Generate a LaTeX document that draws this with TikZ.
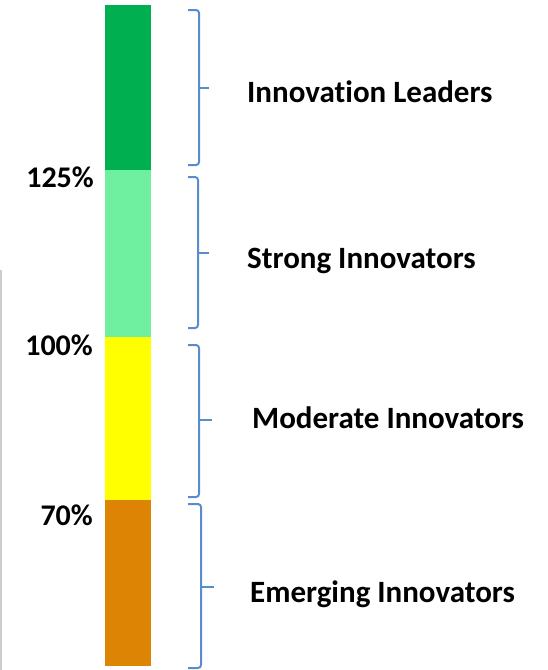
\documentclass[tikz,border=0pt]{standalone}
\usepackage{fontspec}
\setmainfont{Carlito}[Ligatures={NoCommon}]
\definecolor{cLead}{RGB}{0,176,80}
\definecolor{cStrong}{RGB}{110,240,160}
\definecolor{cMod}{RGB}{255,255,0}
\definecolor{cEmerg}{RGB}{221,132,5}
\definecolor{cBrace}{RGB}{88,140,205}
\definecolor{cFrame}{RGB}{205,205,205}
\begin{document}
\begin{tikzpicture}[x=1pt,y=-1pt,
  seg/.style={inner sep=0pt, outer sep=0pt, minimum width=45.5pt, draw=none},
  lbl/.style={inner sep=0pt, anchor=base west, font=\bfseries\fontsize{31}{37}\selectfont},
  pct/.style={inner sep=0pt, anchor=base east, font=\bfseries\fontsize{30}{36}\selectfont},
  brace/.style={draw=cBrace, line width=2pt, rounded corners=3pt}]
\useasboundingbox (0,0) rectangle (548,670);
\draw[cFrame, line width=2pt] (1,270) -- (1,670);
% bar segments
\node[seg, fill=cLead,   minimum height=165pt] (s1) at (127.75,87.5) {};
\node[seg, fill=cStrong, minimum height=167pt] (s2) at (127.75,253.5) {};
\node[seg, fill=cMod,    minimum height=163pt] (s3) at (127.75,418.5) {};
\node[seg, fill=cEmerg,  minimum height=166pt] (s4) at (127.75,583) {};
% percent labels
\node[pct] (p125) at (94,187) {125\%};
\node[pct] (p100) at (93,355) {100\%};
\node[pct] (p70)  at (93,525) {70\%};
% braces
\draw[brace] (188,10) -| (199,88) |- (188,165);
\draw[brace] (199,88) -- (209,88);
\draw[brace] (188,177) -| (198,253) |- (188,328);
\draw[brace] (198,253) -- (209,253);
\draw[brace] (188,345) -| (199,420) |- (188,497);
\draw[brace] (199,420) -- (212,420);
\draw[brace] (188,504) -| (201,587) |- (188,668);
\draw[brace] (201,587) -- (214,587);
% category labels
\node[lbl] (l1) at (247,102) {Innovation Leaders};
\node[lbl] (l2) at (247,268) {Strong Innovators};
\node[lbl] (l3) at (252,428) {Moderate Innovators};
\node[lbl] (l4) at (250,602) {Emerging Innovators};
\end{tikzpicture}
\end{document}
